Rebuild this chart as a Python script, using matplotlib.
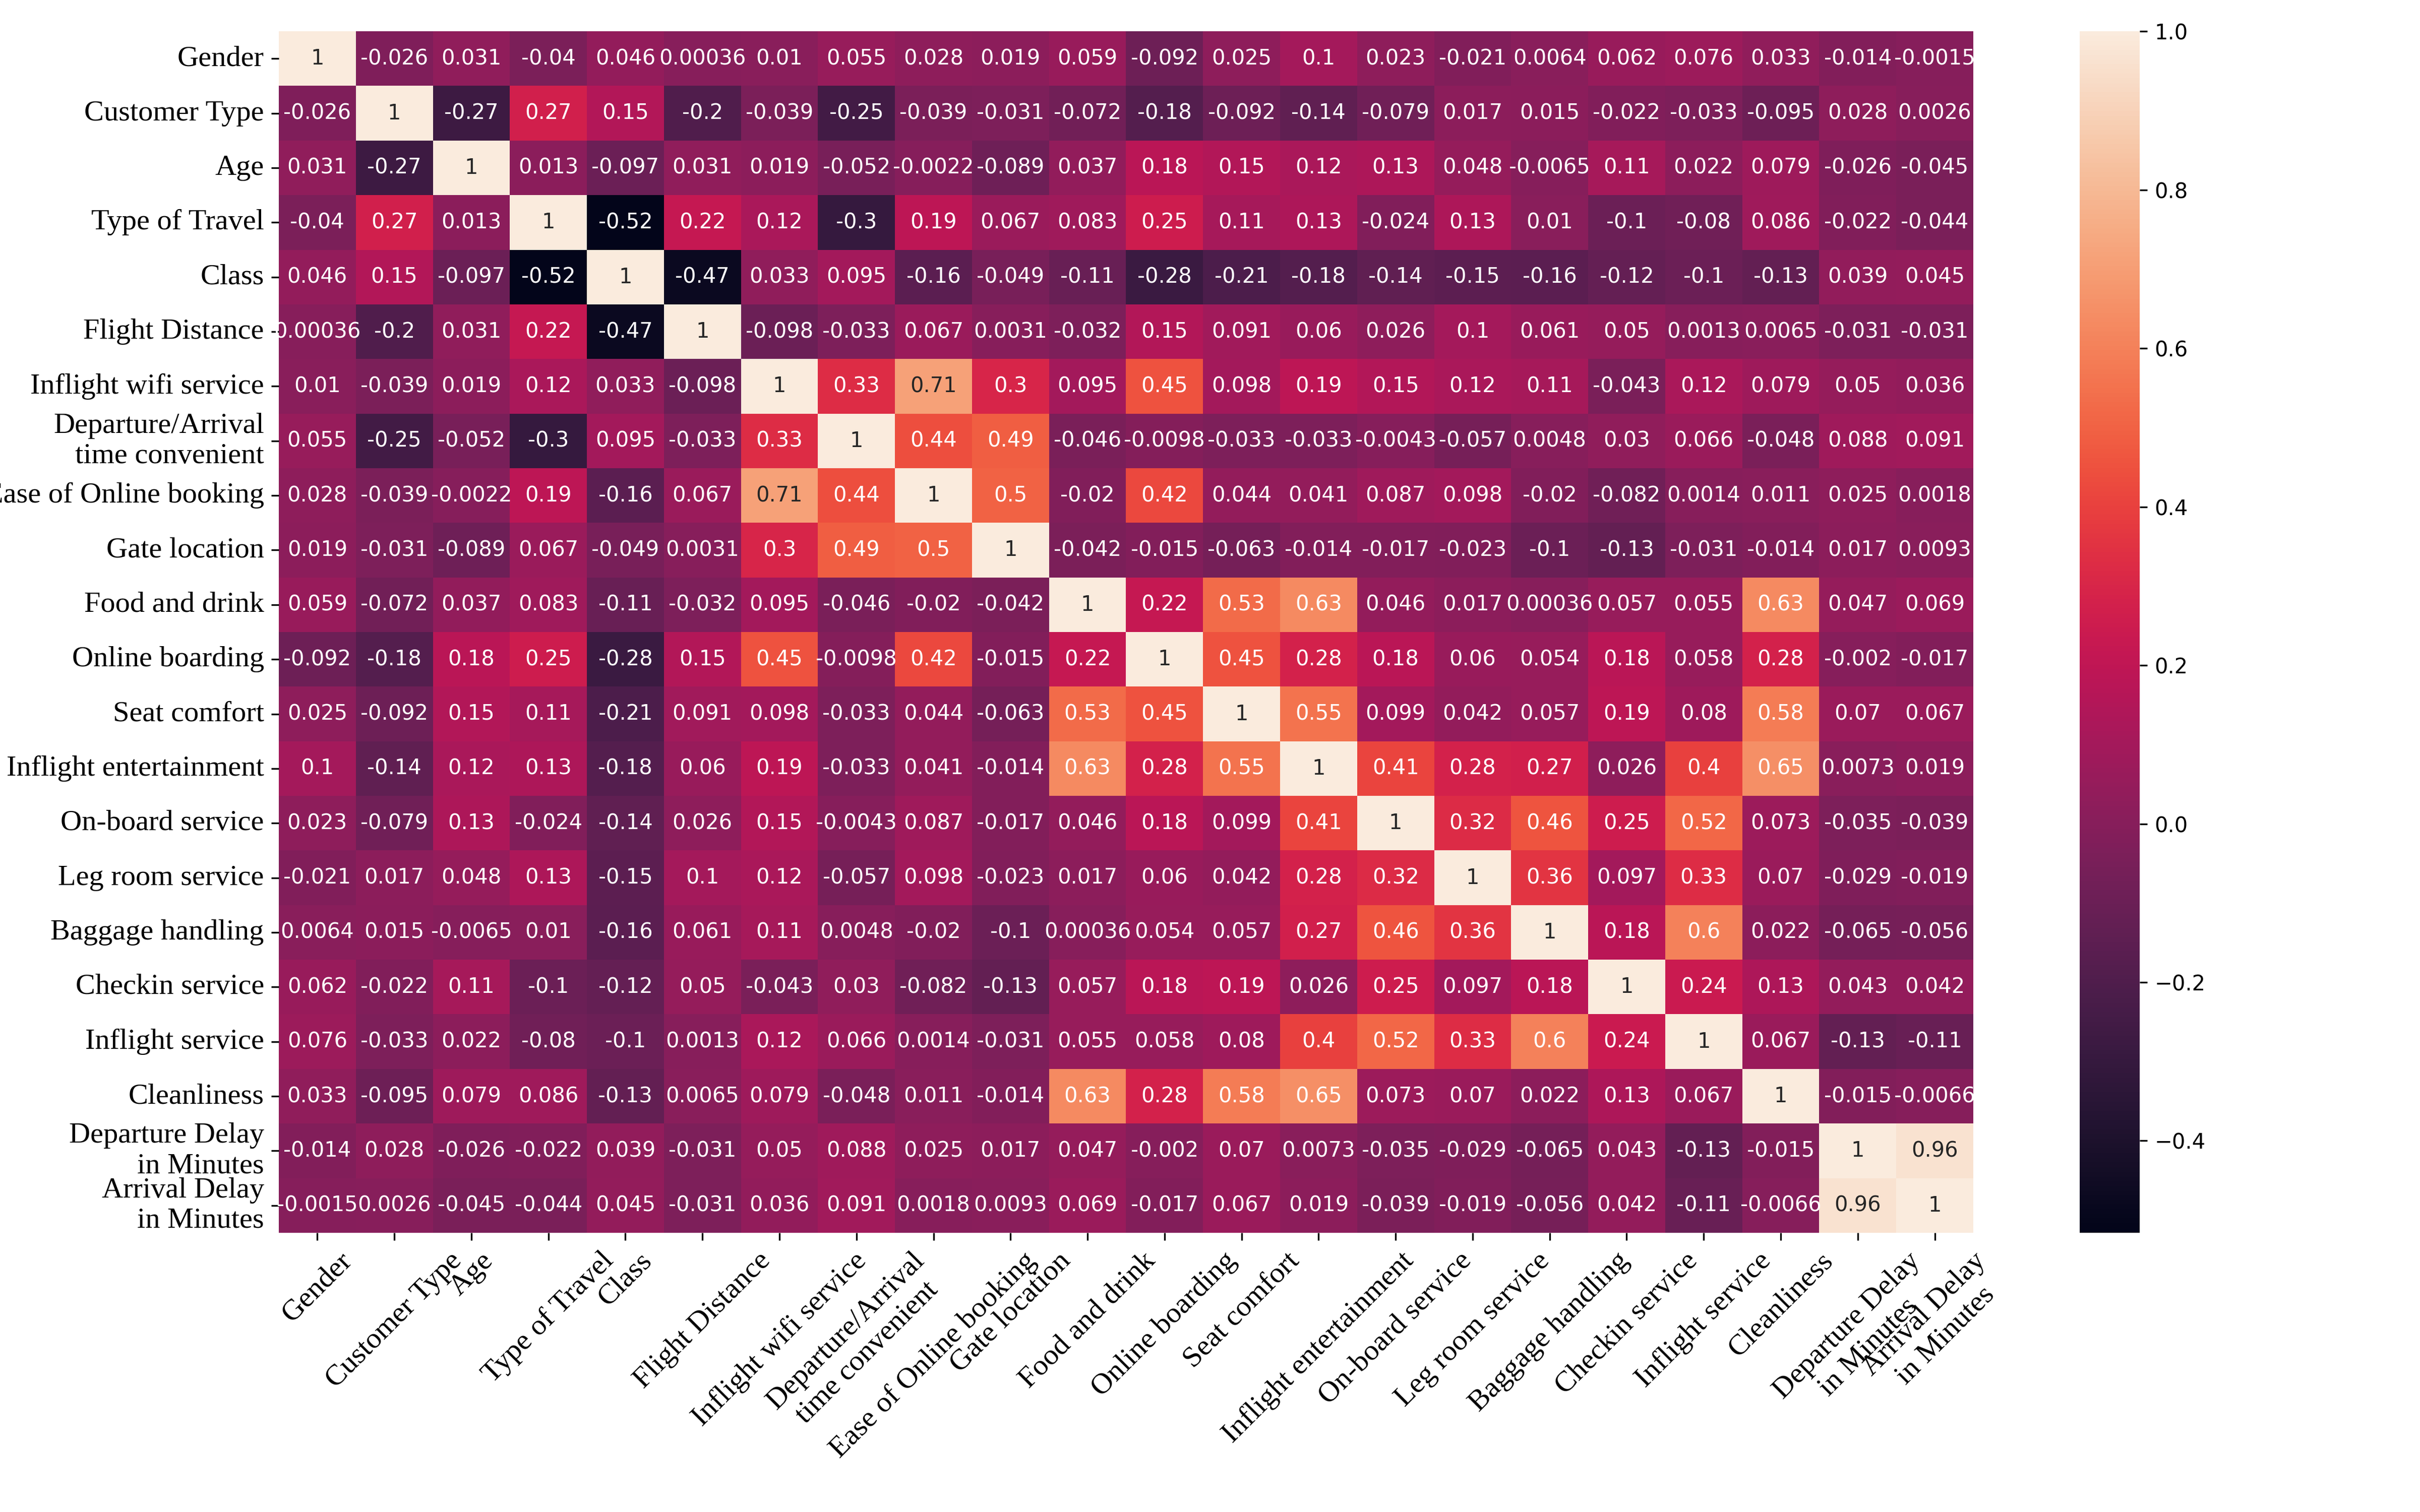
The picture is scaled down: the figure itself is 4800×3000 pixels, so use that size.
import matplotlib
matplotlib.use('Agg')
import matplotlib.pyplot as plt
import numpy as np
import pandas as pd
import seaborn as sns


labels = ['Gender', 'Customer Type', 'Age', 'Type of Travel', 'Class',
          'Flight Distance', 'Inflight wifi service',
          'Departure/Arrival\ntime convenient', 'Ease of Online booking',
          'Gate location', 'Food and drink', 'Online boarding', 'Seat comfort',
          'Inflight entertainment', 'On-board service', 'Leg room service',
          'Baggage handling', 'Checkin service', 'Inflight service',
          'Cleanliness', 'Departure Delay\nin Minutes',
          'Arrival Delay\nin Minutes']

# correlation rows
gender = [1, -0.026, 0.031, -0.04, 0.046, 0.00036, 0.01, 0.055, 0.028, 0.019, 0.059,
          -0.092, 0.025, 0.1, 0.023, -0.021, 0.0064, 0.062, 0.076, 0.033, -0.014, -0.0015]
customer_type = [-0.026, 1, -0.27, 0.27, 0.15, -0.2, -0.039, -0.25, -0.039, -0.031, -0.072,
                 -0.18, -0.092, -0.14, -0.079, 0.017, 0.015, -0.022, -0.033, -0.095, 0.028, 0.0026]
age = [0.031, -0.27, 1, 0.013, -0.097, 0.031, 0.019, -0.052, -0.0022, -0.089, 0.037,
       0.18, 0.15, 0.12, 0.13, 0.048, -0.0065, 0.11, 0.022, 0.079, -0.026, -0.045]
type_of_travel = [-0.04, 0.27, 0.013, 1, -0.516, 0.22, 0.12, -0.3, 0.19, 0.067, 0.083,
                  0.25, 0.11, 0.13, -0.024, 0.13, 0.01, -0.1, -0.08, 0.086, -0.022, -0.044]
travel_class = [0.046, 0.15, -0.097, -0.516, 1, -0.47, 0.033, 0.095, -0.16, -0.049, -0.11,
                -0.28, -0.21, -0.18, -0.14, -0.15, -0.16, -0.12, -0.1, -0.13, 0.039, 0.045]
flight_distance = [0.00036, -0.2, 0.031, 0.22, -0.47, 1, -0.098, -0.033, 0.067, 0.0031, -0.032,
                   0.15, 0.091, 0.06, 0.026, 0.1, 0.061, 0.05, 0.0013, 0.0065, -0.031, -0.031]
wifi = [0.01, -0.039, 0.019, 0.12, 0.033, -0.098, 1, 0.33, 0.71, 0.3, 0.095,
        0.45, 0.098, 0.19, 0.15, 0.12, 0.11, -0.043, 0.12, 0.079, 0.05, 0.036]
dep_arr_time = [0.055, -0.25, -0.052, -0.3, 0.095, -0.033, 0.33, 1, 0.44, 0.49, -0.046,
                -0.0098, -0.033, -0.033, -0.0043, -0.057, 0.0048, 0.03, 0.066, -0.048, 0.088, 0.091]
online_booking = [0.028, -0.039, -0.0022, 0.19, -0.16, 0.067, 0.71, 0.44, 1, 0.5, -0.02,
                  0.42, 0.044, 0.041, 0.087, 0.098, -0.02, -0.082, 0.0014, 0.011, 0.025, 0.0018]
gate = [0.019, -0.031, -0.089, 0.067, -0.049, 0.0031, 0.3, 0.49, 0.5, 1, -0.042,
        -0.015, -0.063, -0.014, -0.017, -0.023, -0.1, -0.13, -0.031, -0.014, 0.017, 0.0093]
food = [0.059, -0.072, 0.037, 0.083, -0.11, -0.032, 0.095, -0.046, -0.02, -0.042, 1,
        0.22, 0.53, 0.63, 0.046, 0.017, 0.00036, 0.057, 0.055, 0.63, 0.047, 0.069]
online_boarding = [-0.092, -0.18, 0.18, 0.25, -0.28, 0.15, 0.45, -0.0098, 0.42, -0.015, 0.22,
                   1, 0.45, 0.28, 0.18, 0.06, 0.054, 0.18, 0.058, 0.28, -0.002, -0.017]
seat = [0.025, -0.092, 0.15, 0.11, -0.21, 0.091, 0.098, -0.033, 0.044, -0.063, 0.53,
        0.45, 1, 0.55, 0.099, 0.042, 0.057, 0.19, 0.08, 0.58, 0.07, 0.067]
entertainment = [0.1, -0.14, 0.12, 0.13, -0.18, 0.06, 0.19, -0.033, 0.041, -0.014, 0.63,
                 0.28, 0.55, 1, 0.41, 0.28, 0.27, 0.026, 0.4, 0.65, 0.0073, 0.019]
onboard = [0.023, -0.079, 0.13, -0.024, -0.14, 0.026, 0.15, -0.0043, 0.087, -0.017, 0.046,
           0.18, 0.099, 0.41, 1, 0.32, 0.46, 0.25, 0.52, 0.073, -0.035, -0.039]
leg_room = [-0.021, 0.017, 0.048, 0.13, -0.15, 0.1, 0.12, -0.057, 0.098, -0.023, 0.017,
            0.06, 0.042, 0.28, 0.32, 1, 0.36, 0.097, 0.33, 0.07, -0.029, -0.019]
baggage = [0.0064, 0.015, -0.0065, 0.01, -0.16, 0.061, 0.11, 0.0048, -0.02, -0.1, 0.00036,
           0.054, 0.057, 0.27, 0.46, 0.36, 1, 0.18, 0.6, 0.022, -0.065, -0.056]
checkin = [0.062, -0.022, 0.11, -0.1, -0.12, 0.05, -0.043, 0.03, -0.082, -0.13, 0.057,
           0.18, 0.19, 0.026, 0.25, 0.097, 0.18, 1, 0.24, 0.13, 0.043, 0.042]
inflight_service = [0.076, -0.033, 0.022, -0.08, -0.1, 0.0013, 0.12, 0.066, 0.0014, -0.031, 0.055,
                    0.058, 0.08, 0.4, 0.52, 0.33, 0.6, 0.24, 1, 0.067, -0.13, -0.11]
cleanliness = [0.033, -0.095, 0.079, 0.086, -0.13, 0.0065, 0.079, -0.048, 0.011, -0.014, 0.63,
               0.28, 0.58, 0.65, 0.073, 0.07, 0.022, 0.13, 0.067, 1, -0.015, -0.0066]
dep_delay = [-0.014, 0.028, -0.026, -0.022, 0.039, -0.031, 0.05, 0.088, 0.025, 0.017, 0.047,
             -0.002, 0.07, 0.0073, -0.035, -0.029, -0.065, 0.043, -0.13, -0.015, 1, 0.96]
arr_delay = [-0.0015, 0.0026, -0.045, -0.044, 0.045, -0.031, 0.036, 0.091, 0.0018, 0.0093, 0.069,
             -0.017, 0.067, 0.019, -0.039, -0.019, -0.056, 0.042, -0.11, -0.0066, 0.96, 1]

rows = [gender, customer_type, age, type_of_travel, travel_class, flight_distance,
        wifi, dep_arr_time, online_booking, gate, food, online_boarding, seat,
        entertainment, onboard, leg_room, baggage, checkin, inflight_service,
        cleanliness, dep_delay, arr_delay]
corr = pd.DataFrame(np.array(rows), index=labels, columns=labels)

fig = plt.figure(figsize=(16, 10), dpi=300)
ax = fig.add_axes([0.1152, 0.1847, 0.7002, 0.7946])
cax = fig.add_axes([0.8594, 0.1847, 0.0248, 0.7946])

sns.heatmap(corr, annot=True, fmt='.2g', ax=ax, cbar_ax=cax,
            annot_kws={'fontsize': 10})

serif = {'family': 'Liberation Serif', 'size': 14}
ax.set_xticklabels(labels, rotation=45, ha='center', fontdict=serif)
ax.set_yticklabels(labels, rotation=0, fontdict=serif)
cax.tick_params(labelsize=10)

fig.savefig('out.png', dpi=300)
